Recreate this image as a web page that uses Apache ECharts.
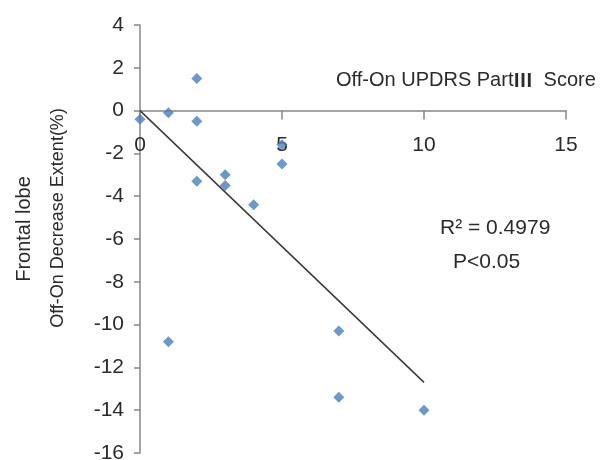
<!DOCTYPE html>
<html>
<head>
<meta charset="UTF-8">
<title>scatter</title>
<script src="https://cdn.jsdelivr.net/npm/echarts@6/dist/echarts.min.js"></script>
<style>
    body { margin: 0; background: #fff; }
    #main { width: 612px; height: 460px; }
</style>
</head>
<body>
<div id="main"></div>
<script type="text/javascript">
    // UPDRS 改善分数 (x) 与 额叶下降程度 (y)
    var updrsScore = [0, 1, 2, 2, 2, 3, 3, 4, 5, 5, 1, 7, 7, 10];
    var frontalDecrease = [-0.4, -0.1, 1.5, -0.5, -3.3, -3.0, -3.5, -4.4, -1.6, -2.5, -10.8, -10.3, -13.4, -14.0];
    // 趋势线两端
    var trendX = [0, 10];
    var trendY = [0, -12.7];
    var xTicks = [0, 5, 10, 15];
    var yTicks = [-16, -14, -12, -10, -8, -6, -4, -2, 0, 2, 4];

    var points = [];
    for (var i = 0; i < updrsScore.length; i++) {
        points.push([updrsScore[i], frontalDecrease[i]]);
    }
    var trend = [];
    for (var j = 0; j < trendX.length; j++) {
        trend.push([trendX[j], trendY[j]]);
    }

    var gridTop = 25, gridBottom = 7, chartH = 460;
    // x轴画在 y=0 处：从底边往上移
    var plotH = chartH - gridTop - gridBottom;
    var yMin = yTicks[0], yMax = yTicks[yTicks.length - 1];
    var xAxisShift = -plotH * (0 - yMin) / (yMax - yMin);

    var myChart = echarts.init(document.getElementById('main'));
    var labelFont = 'Liberation Sans';
    var option = {
        animation: false,
        backgroundColor: '#fff',
        grid: { left: 140, right: 46, top: gridTop, bottom: gridBottom, containLabel: false, outerBoundsMode: 'none' },
        xAxis: {
            type: 'value',
            min: xTicks[0],
            max: xTicks[xTicks.length - 1],
            interval: 5,
            offset: xAxisShift,
            splitLine: { show: false },
            axisLine: { onZero: false, lineStyle: { color: '#868686', width: 1.5 } },
            axisTick: { show: true, inside: false, length: 9, lineStyle: { color: '#868686', width: 1.5 } },
            axisLabel: { color: '#2b2b2b', fontSize: 21, fontFamily: labelFont, margin: 24 }
        },
        yAxis: {
            type: 'value',
            min: yMin,
            max: yMax,
            interval: 2,
            splitLine: { show: false },
            axisLine: { show: true, onZero: false, lineStyle: { color: '#868686', width: 1.5 } },
            axisTick: { show: true, length: 6, lineStyle: { color: '#868686', width: 1.5 } },
            axisLabel: { color: '#2b2b2b', fontSize: 21, fontFamily: labelFont, margin: 16 }
        },
        series: [
            {
                type: 'line',
                data: trend,
                symbol: 'none',
                lineStyle: { color: '#3a3a3a', width: 1.5 },
                z: 1
            },
            {
                type: 'scatter',
                data: points,
                symbol: 'diamond',
                symbolSize: 11,
                itemStyle: { color: '#4a7ebb' },
                z: 2
            }
        ],
        graphic: [
            {
                type: 'text', left: 336, top: 70,
                style: {
                    text: '{a|Off-On UPDRS Part}{b|Ⅲ}{a|  Score}',
                    rich: {
                        a: { fill: '#2b2b2b', fontSize: 20, fontFamily: labelFont },
                        b: { fill: '#2b2b2b', fontSize: 19, fontFamily: 'Noto Sans CJK SC', fontWeight: 'bold' }
                    }
                }
            },
            {
                type: 'text', left: 440, top: 218,
                style: { text: 'R² = 0.4979', fill: '#2b2b2b', fontSize: 21, fontFamily: labelFont }
            },
            {
                type: 'text', left: 453, top: 252,
                style: { text: 'P<0.05', fill: '#2b2b2b', fontSize: 21, fontFamily: labelFont }
            },
            {
                type: 'text', x: 24, y: 229, rotation: Math.PI / 2,
                style: { text: 'Frontal lobe', fill: '#2b2b2b', fontSize: 20, fontFamily: labelFont, align: 'center', verticalAlign: 'middle' }
            },
            {
                type: 'text', x: 58, y: 218, rotation: Math.PI / 2,
                style: { text: 'Off-On Decrease Extent(%)', fill: '#2b2b2b', fontSize: 18, fontFamily: labelFont, align: 'center', verticalAlign: 'middle' }
            }
        ]
    };
    myChart.setOption(option);
</script>
</body>
</html>
